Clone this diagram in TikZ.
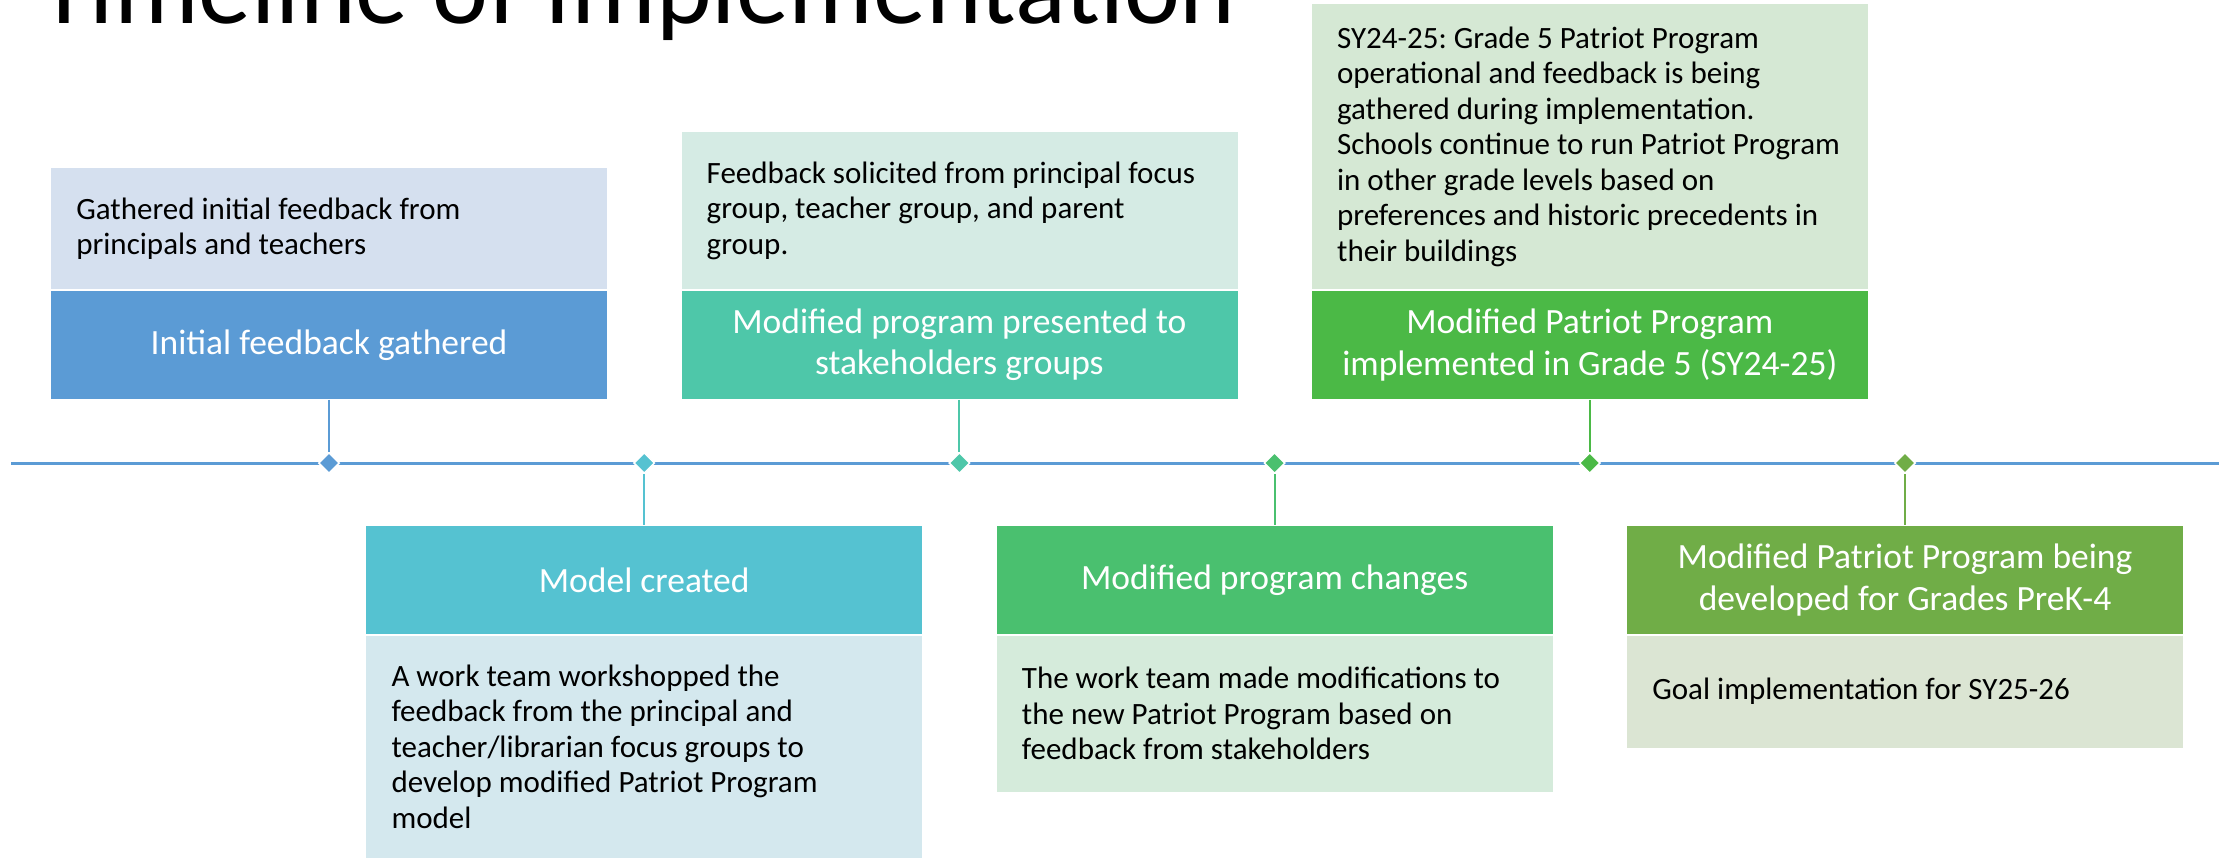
\documentclass[tikz,border=0pt]{standalone}
\usepackage{fontspec}
\setmainfont{Carlito}
\usetikzlibrary{shapes.geometric}
\definecolor{tlc}{HTML}{5B9BD5}
\definecolor{da}{HTML}{5B9BD5}\definecolor{la}{HTML}{D5E0EF}
\definecolor{db}{HTML}{55C2D1}\definecolor{lb}{HTML}{D4E8EE}
\definecolor{dc}{HTML}{4EC7A9}\definecolor{lc}{HTML}{D5EBE4}
\definecolor{dd}{HTML}{4AC06F}\definecolor{ld}{HTML}{D5EBDB}
\definecolor{de}{HTML}{4BB946}\definecolor{le}{HTML}{D5E8D4}
\definecolor{df}{HTML}{70AD47}\definecolor{lf}{HTML}{DBE5D3}
\tikzset{
  hdr/.style={rectangle, draw=white, line width=0.8pt, minimum width=557pt, minimum height=109pt,
    inner sep=0pt, align=center, text=white, font=\frenchspacing\fontsize{35.5}{41.5}\selectfont},
  bodybox/.style={rectangle, draw=white, line width=0.8pt, minimum width=557pt, inner sep=0pt},
  btext/.style={anchor=west, inner sep=0pt, align=left, text=black,
    font=\frenchspacing\fontsize{31}{35.5}\selectfont},
  dmd/.style={diamond, draw=white, line width=1.5pt, minimum size=21pt, inner sep=0pt},
  conn/.style={line width=2pt},
}
\begin{document}
\begin{tikzpicture}[x=1pt,y=-1pt]
\useasboundingbox (0,0) rectangle (2233,857);
% title
\node[anchor=base east, inner sep=0pt, font=\fontsize{106}{106}\selectfont] (title) at (1236,23) {Timeline of Implementation};
% timeline
\coordinate (tl) at (11,463);
\coordinate (tr) at (2219,463);
\draw[tlc, line width=3pt] (tl) -- (tr);
% box 1 (top)
\node[hdr, fill=da, anchor=north] (h1) at (329,290) {Initial feedback gathered};
\node[bodybox, fill=la, minimum height=122pt, anchor=south] (b1) at (h1.north) {};
\node[btext] (t1) at ([xshift=26pt]b1.west) {Gathered initial feedback from\\principals and teachers};
% box 2 (bottom)
\node[hdr, fill=db, anchor=north] (h2) at (644.2,525) {Model created};
\node[bodybox, fill=lb, minimum height=225pt, anchor=north] (b2) at (h2.south) {};
\node[btext] (t2) at ([xshift=26pt,yshift=1pt]b2.west) {A work team workshopped the\\feedback from the principal and\\teacher/librarian focus groups to\\develop modified Patriot Program\\model};
% box 3 (top)
\node[hdr, fill=dc, anchor=north] (h3) at (959.4,290) {Modified program presented to\\stakeholders groups};
\node[bodybox, fill=lc, minimum height=158pt, anchor=south] (b3) at (h3.north) {};
\node[btext] (t3) at ([xshift=26pt]b3.west) {Feedback solicited from principal focus\\group, teacher group, and parent\\group.};
% box 4 (bottom)
\node[hdr, fill=dd, anchor=north] (h4) at (1274.6,525) {Modified program changes};
\node[bodybox, fill=ld, minimum height=157pt, anchor=north] (b4) at (h4.south) {};
\node[btext] (t4) at ([xshift=26pt]b4.west) {The work team made modifications to\\the new Patriot Program based on\\feedback from stakeholders};
% box 5 (top)
\node[hdr, fill=de, anchor=north] (h5) at (1589.8,290) {Modified Patriot Program\\implemented in Grade 5 (SY24-25)};
\node[bodybox, fill=le, minimum height=286pt, anchor=south] (b5) at (h5.north) {};
\node[btext] (t5) at ([xshift=26pt]b5.west) {SY24-25: Grade 5 Patriot Program\\operational and feedback is being\\gathered during implementation.\\Schools continue to run Patriot Program\\in other grade levels based on\\preferences and historic precedents in\\their buildings};
% box 6 (bottom)
\node[hdr, fill=df, anchor=north] (h6) at (1905,525) {Modified Patriot Program being\\developed for Grades PreK-4};
\node[bodybox, fill=lf, minimum height=113pt, anchor=north] (b6) at (h6.south) {};
\node[btext] (t6) at ([xshift=26pt]b6.west) {Goal implementation for SY25-26};
% diamonds
\node[dmd, fill=da] (d1) at (329,463) {};
\node[dmd, fill=db] (d2) at (644.2,463) {};
\node[dmd, fill=dc] (d3) at (959.4,463) {};
\node[dmd, fill=dd] (d4) at (1274.6,463) {};
\node[dmd, fill=de] (d5) at (1589.8,463) {};
\node[dmd, fill=df] (d6) at (1905,463) {};
% connectors
\draw[conn, da] (h1.south) -- (d1.north);
\draw[conn, db] (d2.south) -- (h2.north);
\draw[conn, dc] (h3.south) -- (d3.north);
\draw[conn, dd] (d4.south) -- (h4.north);
\draw[conn, de] (h5.south) -- (d5.north);
\draw[conn, df] (d6.south) -- (h6.north);
\end{tikzpicture}
\end{document}
